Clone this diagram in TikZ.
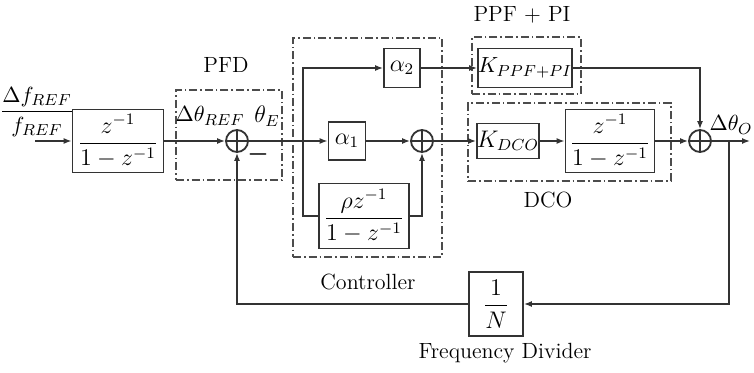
\documentclass[tikz,border=0pt]{standalone}
\usetikzlibrary{arrows.meta, positioning}
\usepackage{amsmath}

\begin{document}
\begin{tikzpicture}[
    x=0.5pt, y=-0.5pt,
    every node/.style={font=\fontsize{11}{13}\selectfont},
    mth/.style={font=\fontsize{12}{14}\selectfont},
    blk/.style={rectangle, draw=black!80, line width=0.9pt, inner sep=0pt, align=center, mth},
    sumnode/.style={circle, draw=black!80, line width=0.9pt, minimum size=11pt, inner sep=0pt,
        path picture={\draw[line width=0.7pt, black!80]
            (path picture bounding box.north) -- (path picture bounding box.south)
            (path picture bounding box.west) -- (path picture bounding box.east);}},
    grp/.style={rectangle, draw=black!70, line width=0.6pt,
        dash pattern=on 4pt off 1.5pt on 0.8pt off 1.5pt, inner sep=0pt},
    arr/.style={-{Latex[length=4pt, width=3pt]}, line width=0.7pt, draw=black!80},
    ln/.style={line width=0.7pt, draw=black!80}
]
    \useasboundingbox (0,0) rectangle (754,373);

    \node[grp, minimum width=53pt, minimum height=45pt] (pfd) at (229,135) {};
    \node[grp, minimum width=74.5pt, minimum height=109.5pt] (ctrl) at (367.5,147.5) {};
    \node[grp, minimum width=54.5pt, minimum height=28.5pt] (ppf) at (526.5,65.5) {};
    \node[grp, minimum width=101.5pt, minimum height=39pt] (dco) at (569.5,142) {};

    \node (pfdlbl) at (226,65) {PFD};
    \node (ctrllbl) at (368,282) {Controller};
    \node (ppflbl) at (522,15) {PPF + PI};
    \node (dcolbl) at (548,200) {DCO};
    \node (divlbl) at (505,353) {Frequency Divider};

    \node (fin) at (37,112) {$\dfrac{\Delta f_{REF}}{f_{REF}}$};
    \coordinate (in) at (35,141);
    \node[blk, minimum width=45.5pt, minimum height=31.5pt] (intg1) at (118,141) {$\dfrac{z^{-1}}{1-z^{-1}}$};
    \node[sumnode] (sum1) at (237,141) {};
    \node (thref) at (210,116) {$\Delta\theta_{REF}$};
    \node[mth] (the) at (267,116) {$\theta_E$};
    \node[mth] (minus) at (258,155) {$\boldsymbol{-}$};

    \coordinate (br) at (303,141);
    \node[blk, minimum width=18pt, minimum height=19.5pt] (a2) at (402,68) {$\alpha_2$};
    \node[blk, minimum width=18.5pt, minimum height=19pt] (a1) at (347,141) {$\alpha_1$};
    \node[blk, minimum width=45pt, minimum height=32.5pt] (acc) at (364,216) {$\dfrac{\rho z^{-1}}{1-z^{-1}}$};
    \node[sumnode] (sum2) at (422,141) {};

    \node[blk, minimum width=43pt, minimum height=19.5pt, font=\fontsize{11}{13}\selectfont] (kppf) at (525,68) {$K_{PPF+PI}$};
    \node[blk, minimum width=30.5pt, minimum height=17.5pt] (kdco) at (508,141) {$K_{DCO}$};
    \node[blk, minimum width=44.5pt, minimum height=31.5pt] (intg2) at (610,141) {$\dfrac{z^{-1}}{1-z^{-1}}$};
    \node[sumnode] (sum3) at (700,141) {};
    \node[anchor=east, inner sep=0.5pt] (tho) at (754,125) {$\Delta\theta_O$};
    \coordinate (out) at (750,141);
    \coordinate (fb) at (729,141);

    \node[blk, minimum width=27pt, minimum height=32pt] (div) at (496,304) {$\dfrac{1}{N}$};

    \draw[arr] (in) -- (intg1);
    \draw[arr] (intg1) -- (sum1);
    \draw[arr] (sum1) -- (a1);
    \draw[arr] (br) |- (a2);
    \draw[ln] (br) |- (acc);
    \draw[arr] (a1) -- (sum2);
    \draw[arr] (acc) -| (sum2);
    \draw[arr] (sum2) -- (kdco);
    \draw[arr] (a2) -- (kppf);
    \draw[arr] (kppf) -| (sum3);
    \draw[arr] (kdco) -- (intg2);
    \draw[arr] (intg2) -- (sum3);
    \draw[arr] (sum3) -- (out);
    \draw[arr] (fb) |- (div);
    \draw[arr] (div) -| (sum1);
\end{tikzpicture}
\end{document}
